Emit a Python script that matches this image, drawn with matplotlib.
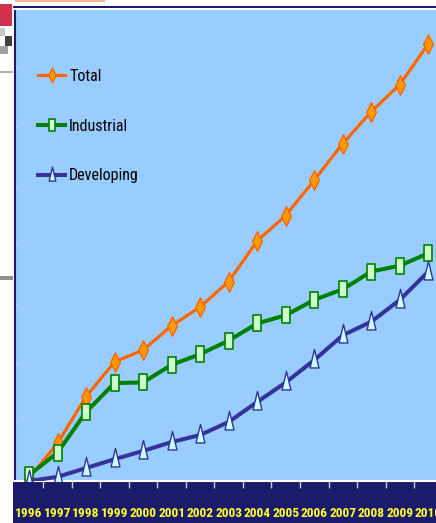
import matplotlib
matplotlib.use('Agg')
import matplotlib.pyplot as plt
from matplotlib.patches import Rectangle
from matplotlib.path import Path

# values (units = gridline steps)
years = list(range(1996, 2011))
total = [0.05, 0.64, 1.43, 2.02, 2.22, 2.63, 2.95, 3.38, 4.07, 4.50, 5.10, 5.72, 6.26, 6.72, 7.41]
industrial = [0.10, 0.48, 1.17, 1.66, 1.67, 1.97, 2.15, 2.38, 2.67, 2.81, 3.07, 3.25, 3.55, 3.65, 3.86]
developing = [0.00, 0.07, 0.22, 0.37, 0.51, 0.66, 0.78, 1.00, 1.34, 1.67, 2.05, 2.47, 2.70, 3.07, 3.55]
labels = ['Total', 'Industrial', 'Developing']

navy = '#1c1a6a'
bg = '#99ccff'
narrow = ['Liberation Sans Narrow', 'Roboto Condensed', 'DejaVu Sans Condensed', 'Liberation Sans']

# tall thin marker shapes
diamond = Path([(0, 1), (0.5, 0), (0, -1), (-0.5, 0), (0, 1)],
               [Path.MOVETO, Path.LINETO, Path.LINETO, Path.LINETO, Path.CLOSEPOLY])
rect = Path([(-0.5, -1), (0.5, -1), (0.5, 1), (-0.5, 1), (-0.5, -1)],
            [Path.MOVETO, Path.LINETO, Path.LINETO, Path.LINETO, Path.CLOSEPOLY])
tri = Path([(0, 1), (0.4, -0.67), (-0.4, -0.67), (0, 1)],
           [Path.MOVETO, Path.LINETO, Path.LINETO, Path.CLOSEPOLY])

W, H = 436, 523
fig = plt.figure(figsize=(W / 100, H / 100), dpi=100, facecolor='white')

def box(x, y, w, h, c, z=-1):
    # rectangle in pixel units from the top-left corner
    fig.patches.append(Rectangle((x / W, 1 - (y + h) / H), w / W, h / H,
                                 transform=fig.transFigure, facecolor=c,
                                 edgecolor='none', zorder=z))

# navy band behind the year labels
box(13, 482, W, 41, navy)
# bits of the slide around the chart
box(0, 4, 12, 22, '#d0304a')
box(0, 28, 5, 8, '#c8c8c8')
box(5, 36, 7, 10, '#404040')
box(0, 46, 8, 8, '#a0a0a0')
box(0, 71, 13, 2, '#b0b0b0')
box(0, 276, 13, 4, '#909090')
box(15, 0, 90, 2, '#f2b890')
# navy frame line above the plot area
box(13, 6, W, 2, navy, 5)

ax = fig.add_axes([14.74 / W, 42 / H, (442.6 - 14.74) / W, 472 / H])
ax.set_facecolor(bg)

ax.plot(years, total, color='#ff6600', lw=2.3, marker=diamond, ms=14,
        mfc='#ff9900', mec='#ff6600', mew=1, label=labels[0], zorder=3)
ax.plot(years, industrial, color='#008000', lw=2.9, marker=rect, ms=11.5,
        mfc='#ccffcc', mec='#008000', mew=1.2, label=labels[1], zorder=4)
ax.plot(years, developing, color='#333399', lw=2.9, marker=tri, ms=16,
        mfc='#ccffff', mec='#333399', mew=1, label=labels[2], zorder=5)

ax.set_xlim(1995.5, 2010.5)
ax.set_ylim(0, 8)
ax.set_xticks(years)
ax.set_xticklabels([str(y) for y in years], color='#ffff33', fontweight='bold',
                   fontsize=9.6, family=narrow, fontstretch='condensed')
ax.set_xticks([y + 0.5 for y in years[:-1]], minor=True)
ax.tick_params(axis='x', which='major', length=0, pad=18.5)
ax.tick_params(axis='x', which='minor', length=5, color='#c8c8d8', width=1)
ax.set_yticks(range(1, 8))
ax.set_yticklabels([])
ax.tick_params(axis='y', length=3, color='#e0e0e0', direction='inout')

ax.spines['top'].set_color('white')
ax.spines['top'].set_linewidth(1.5)
ax.spines['left'].set_color(navy)
ax.spines['left'].set_linewidth(1.5)
ax.spines['right'].set_visible(False)
ax.spines['bottom'].set_color('white')
ax.spines['bottom'].set_linewidth(1.5)

leg = ax.legend(loc='upper left', bbox_to_anchor=(38 / W, 1 - 69 / H),
                bbox_transform=fig.transFigure, frameon=False, borderpad=0,
                borderaxespad=0, handlelength=1.7, handletextpad=0.25,
                labelspacing=2.17, markerscale=0.75,
                prop={'family': narrow, 'size': 11.5, 'stretch': 'condensed'})

fig.savefig('out.png', dpi=100, facecolor='white')
